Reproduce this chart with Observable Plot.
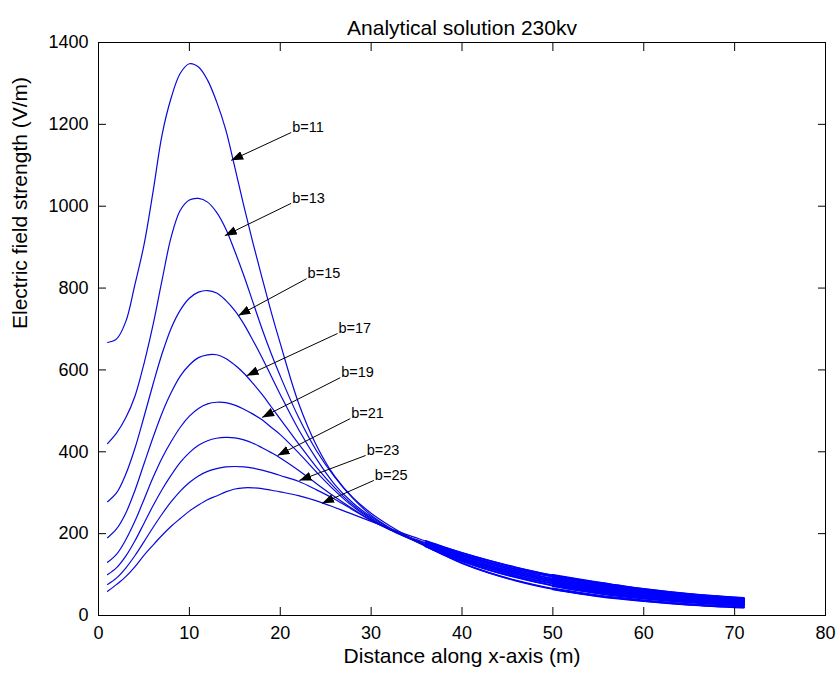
<!DOCTYPE html>
<html><head><meta charset="utf-8">
<script src="https://cdn.jsdelivr.net/npm/d3@7"></script>
<script src="https://cdn.jsdelivr.net/npm/@observablehq/plot@0.6"></script>
<style>
html,body{margin:0;padding:0;background:#fff;}
#chart svg{display:block;}
</style></head><body><div id="chart"></div>
<script>
// Distance along x-axis (m)
const xs = [1,2,3,4,5,6,7,8,9,10,11,12,13,14,15,16,17,18,19,20,22,24,26,28,30,32,34,36,38,40,43,46,50,55,60,65,71];

// Electric field strength (V/m) for each conductor height b
const b11 = [667,676,718,808,905,1035,1175,1265,1325,1348,1340,1308,1255,1187,1095,1000,910,825,742,665,520,415,340,288,250,220,194,170,148,128,104,85,65,48,36,27,20];
const b13 = [420,446,483,535,615,710,820,925,990,1015,1019,1010,985,945,890,830,765,700,640,585,485,402,338,286,245,215,191,169,150,133,111,93,73,55,42,33,25];
const b15 = [278,300,345,408,485,565,640,702,746,775,790,794,788,770,745,712,672,630,585,540,455,382,320,275,241,213,190,170,152,136,115,97,78,60,46,37,28];
const b17 = [190,212,250,305,370,435,495,545,585,612,630,637,637,628,612,592,567,540,510,480,420,362,312,270,238,210,190,172,155,139,119,101,82,64,50,40,31];
const b19 = [130,150,185,230,283,337,385,425,460,487,506,517,521,520,514,504,492,478,460,442,398,350,305,266,236,211,191,174,158,142,122,105,86,68,54,43,34];
const b21 = [100,117,145,182,225,268,308,343,374,398,416,427,433,435,434,429,421,410,398,385,355,322,290,260,233,210,192,176,161,146,126,109,90,72,57,46,37];
const b23 = [76,92,116,146,180,215,248,278,304,325,341,352,359,363,364,363,360,355,349,342,328,307,284,258,232,211,193,178,164,149,130,113,95,77,61,49,39];
const b25 = [59,76,95,119,147,172,196,218,237,255,270,283,292,302,309,312,312,310,306,302,293,280,264,247,230,213,197,182,167,153,134,117,98,80,64,52,42];

const seriesNames = ["b=11","b=13","b=15","b=17","b=19","b=21","b=23","b=25"];
const seriesValues = [b11,b13,b15,b17,b19,b21,b23,b25];

// annotation arrows (data units): tail at label, tip on curve
const labels = ["b=11","b=13","b=15","b=17","b=19","b=21","b=23","b=25"];
const tailX = [21.2,21.2,22.9,26.3,26.6,27.7,29.4,30.3];
const tailY = [1180,1007,823,689,581,481,391,330];
const tipX  = [14.6,13.9,15.4,16.3,18.0,19.7,22.1,24.6];
const tipY  = [1112,928,733,586,484,391,330,274];

const xTicks = [0,10,20,30,40,50,60,70,80];
const yTicks = [0,200,400,600,800,1000,1200,1400];

const title = "Analytical solution 230kv";
const xLabel = "Distance along x-axis (m)";
const yLabel = "Electric field strength (V/m)";

const rows = [];
seriesNames.forEach((name, i) => seriesValues[i].forEach((v, j) => rows.push({x: xs[j], y: v, b: name})));
const notes = labels.map((t, i) => ({t, x1: tailX[i], y1: tailY[i], x2: tipX[i], y2: tipY[i]}));

const lineColor = "#0808dc";

const plot = Plot.plot({
  width: 840, height: 680,
  marginLeft: 98, marginRight: 15, marginTop: 42, marginBottom: 65,
  style: {fontFamily: "'Liberation Sans', Arial, Helvetica, sans-serif", fontSize: "18px", background: "#fff", color: "black", overflow: "visible"},
  x: {domain: [0, 80]},
  y: {domain: [0, 1400]},
  marks: [
    Plot.line(rows, {x: "x", y: "y", z: "b", stroke: lineColor, strokeWidth: 1.2, curve: "catmull-rom"}),
    Plot.line(rows.filter(d => d.x >= 36), {x: "x", y: "y", z: "b", stroke: "#0000ff", strokeWidth: 1.9, curve: "catmull-rom"}),
    Plot.line(rows.filter(d => d.x >= 50), {x: "x", y: "y", z: "b", stroke: "#0000ff", strokeWidth: 2.6, curve: "catmull-rom"}),
    Plot.link(notes, {x1: "x1", y1: "y1", x2: "x2", y2: "y2", stroke: "black", strokeWidth: 1}),
    Plot.text(notes, {x: "x1", y: "y1", text: "t", textAnchor: "start", dy: -5, dx: 1, fontSize: 14.5, fill: "black"}),
    Plot.frame({stroke: "black", strokeWidth: 1}),
    Plot.axisX(xTicks, {anchor: "bottom", tickSize: -8, tickPadding: 19, tickFormat: d3.format("d"), label: null}),
    Plot.axisX(xTicks, {anchor: "top", tickSize: -8, tickFormat: () => "", label: null}),
    Plot.axisY(yTicks, {anchor: "left", tickSize: -8, tickPadding: 18, tickFormat: d3.format("d"), label: null}),
    Plot.axisY(yTicks, {anchor: "right", tickSize: -8, tickFormat: () => "", label: null}),
    Plot.text([title], {text: d => d, frameAnchor: "top", dy: -22, fontSize: 21, fill: "black"}),
    Plot.text([xLabel], {text: d => d, frameAnchor: "bottom", dy: 47, fontSize: 21, fill: "black"}),
    Plot.text([yLabel], {text: d => d, frameAnchor: "left", rotate: -90, dx: -78, fontSize: 21, fill: "black"})
  ]
});

const svg = d3.select(plot);
const marker = svg.insert("defs", ":first-child").append("marker")
  .attr("id", "ahead").attr("viewBox", "0 0 12 9").attr("refX", 12).attr("refY", 4.5)
  .attr("markerWidth", 12).attr("markerHeight", 9).attr("markerUnits", "userSpaceOnUse").attr("orient", "auto");
marker.append("path").attr("d", "M0,0L12,4.5L0,9Z").attr("fill", "black");
svg.selectAll('g[aria-label="link"] path').attr("marker-end", "url(#ahead)");

document.getElementById("chart").appendChild(plot);
</script></body></html>
